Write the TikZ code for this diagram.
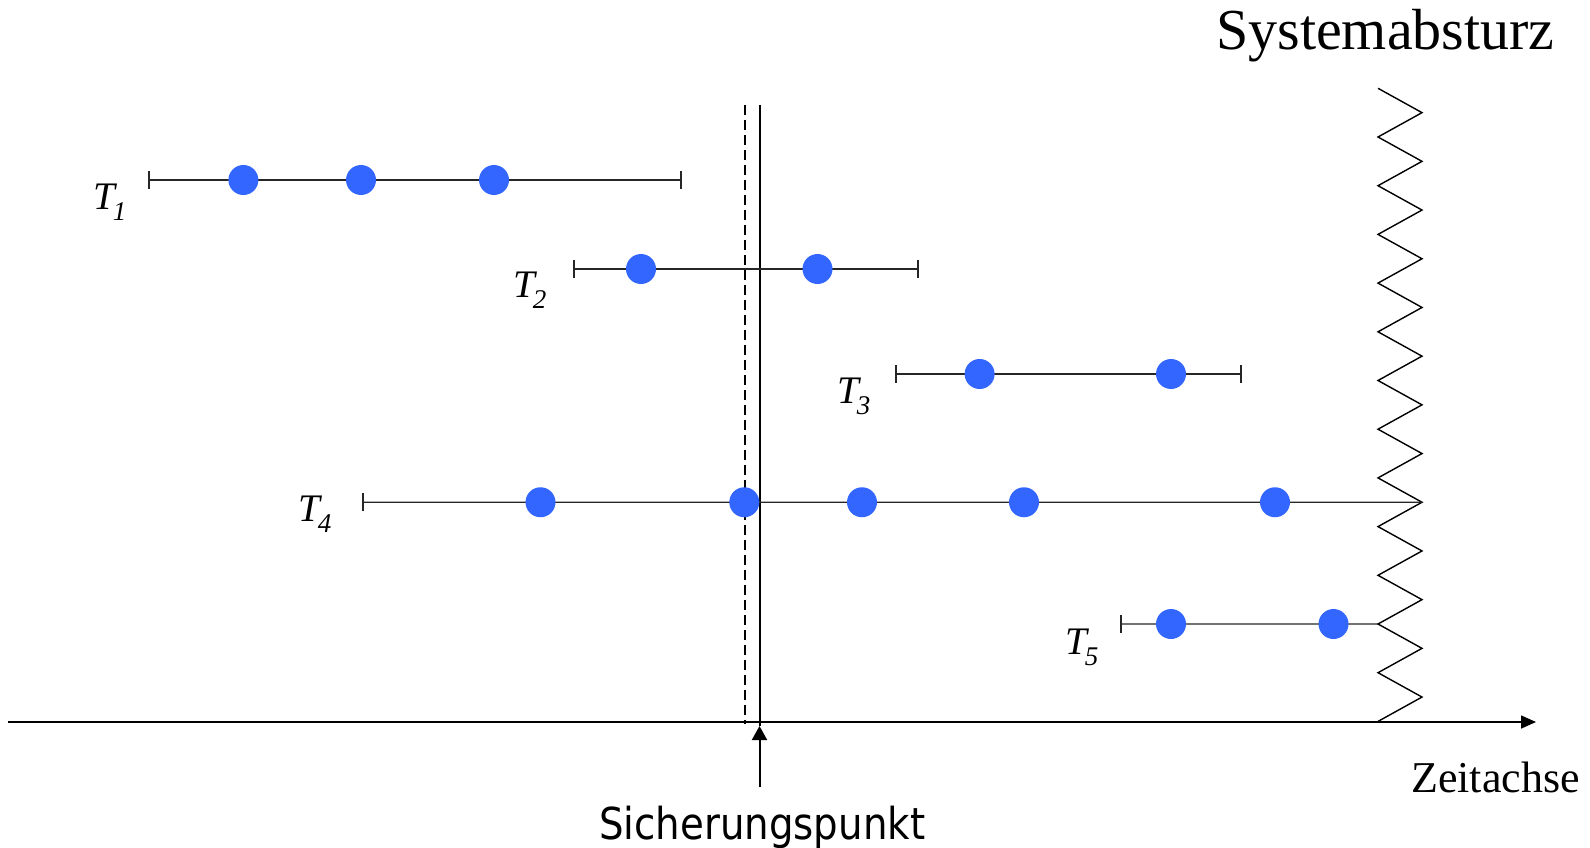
\documentclass[tikz,border=0pt]{standalone}
\usepackage{fontspec}
\setmainfont{Liberation Serif}
\newfontfamily\sichfont[FakeStretch=0.88]{DejaVu Sans}
\usetikzlibrary{arrows.meta}
\definecolor{dotblue}{RGB}{51,102,255}
\newcommand{\tlab}[1]{T\kern-2pt\raisebox{-11pt}{\fontsize{27}{27}\selectfont #1}}
\begin{document}
\begin{tikzpicture}[x=1pt,y=-1pt,
  dot/.style={circle,fill=dotblue,inner sep=0pt,minimum size=30pt},
  tline/.style={line width=1.4pt,draw=black!85},
  tickstart/.style={{Bar[width=18pt,line width=2pt]}-},
  tickboth/.style={{Bar[width=18pt,line width=2pt]}-{Bar[width=18pt,line width=2pt]}},
  tlabel/.style={anchor=base west,inner sep=0pt,font=\fontsize{39}{41}\selectfont\itshape},
  ]
\useasboundingbox (0,0) rectangle (1590,848);

% time axis
\coordinate (ax0) at (8,722);
\coordinate (ax1) at (1536,722);
\draw[line width=1.6pt,-{Triangle[length=15pt,width=13pt]}] (ax0) -- (ax1);

% crash zigzag
\draw[line width=1.4pt,line join=miter]
  (1378,88.3) \foreach \k in {1,...,26}{ -- ({ifthenelse(isodd(\k),1422,1378)},{88.3+\k*24.35}) };
\coordinate (z17) at (1422,{88.3+17*24.35});
\coordinate (z22) at (1378,{88.3+22*24.35});

% checkpoint lines
\coordinate (dtop) at (745,105);
\coordinate (dbot) at (745,724);
\draw[line width=1.6pt,dash pattern=on 10pt off 5pt] (dtop) -- (dbot);
\coordinate (stop) at (759.5,105);
\coordinate (stip) at (759.5,726);
\coordinate (sbot) at (759.5,787);
\draw[line width=2pt] (stop) -- (stip);
\draw[line width=2pt,-{Triangle[length=14pt,width=15pt]}] (sbot) -- (stip);

% T1
\coordinate (a1) at (148,180);
\coordinate (b1) at (682,180);
\draw[tline,tickboth] (a1) -- (b1);
\node[dot] (d11) at (243.4,180) {};
\node[dot] (d12) at (361,180) {};
\node[dot] (d13) at (494,180) {};
\node[tlabel] (l1) at (93,209) {\tlab{1}};

% T2
\coordinate (a2) at (573,269);
\coordinate (b2) at (919,269);
\draw[tline,tickboth] (a2) -- (b2);
\node[dot] (d21) at (641,269) {};
\node[dot] (d22) at (817.5,269) {};
\node[tlabel] (l2) at (513,297) {\tlab{2}};

% T3
\coordinate (a3) at (895,374);
\coordinate (b3) at (1242,374);
\draw[tline,tickboth] (a3) -- (b3);
\node[dot] (d31) at (979.6,374) {};
\node[dot] (d32) at (1171,374) {};
\node[tlabel] (l3) at (837,403) {\tlab{3}};

% T4
\coordinate (a4) at (362,502.25);
\draw[tline,tickstart] (a4) -- (z17);
\node[dot] (d41) at (540.5,502.25) {};
\node[dot] (d42) at (744.3,502.25) {};
\node[dot] (d43) at (862,502.25) {};
\node[dot] (d44) at (1024,502.25) {};
\node[dot] (d45) at (1275,502.25) {};
\node[tlabel] (l4) at (298,521) {\tlab{4}};

% T5
\coordinate (a5) at (1119.5,624);
\draw[tline,tickstart] (a5) -- (z22);
\node[dot] (d51) at (1171,624) {};
\node[dot] (d52) at (1333.5,624) {};
\node[tlabel] (l5) at (1065,654) {\tlab{5}};

% texts
\node[anchor=base west,inner sep=0pt,font=\fontsize{58}{60}\selectfont] (crash) at (1216,50) {Systemabsturz};
\node[anchor=base west,inner sep=0pt,font=\fontsize{44}{46}\selectfont] (zeit) at (1411,792) {Zeitachse};
\node[anchor=base west,inner sep=0pt,font=\fontsize{44}{46}\sichfont] (sich) at (599,839) {Sicherungspunkt};
\end{tikzpicture}
\end{document}
